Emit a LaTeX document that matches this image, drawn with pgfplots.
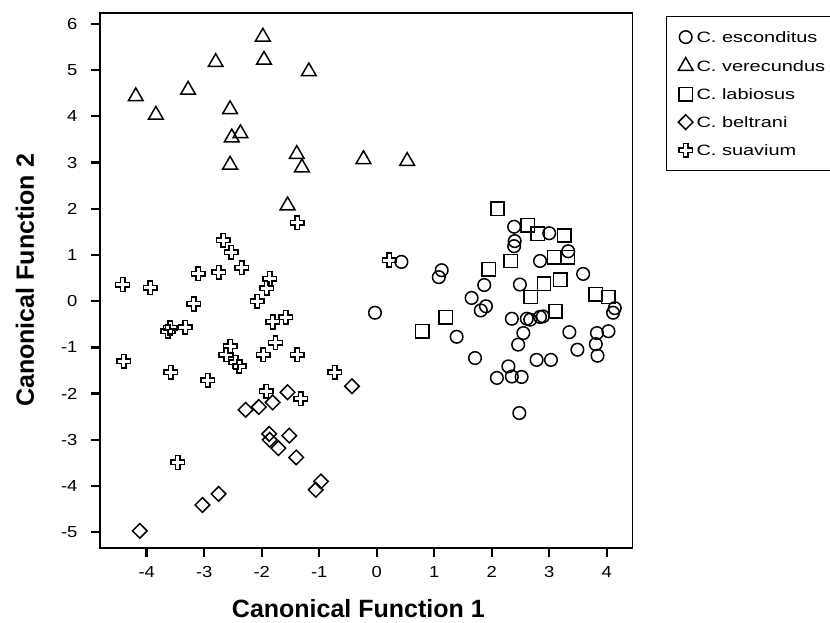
\documentclass[border=0pt]{standalone}
\usepackage{fontspec}
\setmainfont{Liberation Sans}
\newfontfamily\tickfont[FakeStretch=1.15]{Liberation Sans}
\newfontfamily\legfont[FakeStretch=1.33]{Liberation Sans}
\usepackage{pgfplots}
\pgfplotsset{compat=1.18}

% outlined plus, as SPSS draws it
\pgfdeclareplotmark{pluso}{%
  \pgfpathmoveto{\pgfqpoint{-0.33\pgfplotmarksize}{\pgfplotmarksize}}%
  \pgfpathlineto{\pgfqpoint{0.33\pgfplotmarksize}{\pgfplotmarksize}}%
  \pgfpathlineto{\pgfqpoint{0.33\pgfplotmarksize}{0.33\pgfplotmarksize}}%
  \pgfpathlineto{\pgfqpoint{\pgfplotmarksize}{0.33\pgfplotmarksize}}%
  \pgfpathlineto{\pgfqpoint{\pgfplotmarksize}{-0.33\pgfplotmarksize}}%
  \pgfpathlineto{\pgfqpoint{0.33\pgfplotmarksize}{-0.33\pgfplotmarksize}}%
  \pgfpathlineto{\pgfqpoint{0.33\pgfplotmarksize}{-\pgfplotmarksize}}%
  \pgfpathlineto{\pgfqpoint{-0.33\pgfplotmarksize}{-\pgfplotmarksize}}%
  \pgfpathlineto{\pgfqpoint{-0.33\pgfplotmarksize}{-0.33\pgfplotmarksize}}%
  \pgfpathlineto{\pgfqpoint{-\pgfplotmarksize}{-0.33\pgfplotmarksize}}%
  \pgfpathlineto{\pgfqpoint{-\pgfplotmarksize}{0.33\pgfplotmarksize}}%
  \pgfpathlineto{\pgfqpoint{-0.33\pgfplotmarksize}{0.33\pgfplotmarksize}}%
  \pgfpathclose
  \pgfusepathqstroke}
\pgfdeclareplotmark{diam}{%
  \pgfpathmoveto{\pgfqpoint{0pt}{\pgfplotmarksize}}%
  \pgfpathlineto{\pgfqpoint{\pgfplotmarksize}{0pt}}%
  \pgfpathlineto{\pgfqpoint{0pt}{-\pgfplotmarksize}}%
  \pgfpathlineto{\pgfqpoint{-\pgfplotmarksize}{0pt}}%
  \pgfpathclose
  \pgfusepathqstroke}

\begin{document}
\begin{tikzpicture}
\path[use as bounding box] (0,0) rectangle (830pt,622pt);
\begin{axis}[
  at={(100pt,74pt)}, anchor=south west,
  width=532.7pt, height=535pt, scale only axis,
  xmin=-4.812, xmax=4.452, ymin=-5.34, ymax=6.235,
  xtick={-4,...,4}, ytick={-5,...,6},
  tick pos=left, tick align=outside,
  major tick length=9pt,
  axis line style={line width=1.5pt},
  tick style={line width=2.4pt, black},
  /pgf/number format/assume math mode=true,
  ticklabel style={font=\tickfont\fontsize{16}{16}\selectfont},
  xticklabel style={yshift=-6pt},
  yticklabel style={xshift=-10pt},
  xlabel={Canonical Function 1}, ylabel={Canonical Function 2},
  label style={font=\bfseries\fontsize{25}{25}\selectfont},
  xlabel style={at={(axis description cs:0.485,-0.1135)}, anchor=center},
  ylabel style={at={(axis description cs:-0.1408,0.5)}, anchor=center},
  every axis plot/.append style={only marks,
    mark options={solid, line width=1.5pt, draw=black, fill=none},
    legend image code/.code={%
      \draw[##1, only marks] plot coordinates {(0pt,0pt)};}},
  legend style={at={(rel axis cs:1.062,0.9944)}, anchor=north west,
    draw=black, line width=1.2pt, inner xsep=12pt, inner ysep=13pt,
    row sep=13pt, font=\legfont\fontsize{15}{15}\selectfont,
    nodes={inner sep=2pt, text height=11pt, text depth=0pt},
    cells={anchor=west}},
]
\addplot[mark=o, mark size=6.3pt] coordinates {
 (2.39,1.61) (3.00,1.47) (2.40,1.30) (2.39,1.19) (3.33,1.08) (2.84,0.87)
 (3.59,0.59) (0.43,0.85) (1.13,0.67) (1.08,0.52) (1.87,0.35) (2.49,0.36)
 (1.65,0.07) (1.90,-0.11) (1.81,-0.20) (-0.03,-0.25) (4.14,-0.15) (4.11,-0.25)
 (2.35,-0.38) (2.61,-0.38) (2.67,-0.40) (2.84,-0.34) (2.89,-0.33) (2.55,-0.69)
 (3.35,-0.67) (3.83,-0.69) (4.03,-0.65) (1.39,-0.77) (2.46,-0.94) (3.81,-0.93)
 (3.49,-1.05) (3.84,-1.18) (1.71,-1.23) (2.78,-1.27) (3.03,-1.27) (2.29,-1.41)
 (2.09,-1.66) (2.35,-1.63) (2.52,-1.64) (2.48,-2.42)
};
\addlegendentry{\hspace{1.5pt}C. esconditus}
\addplot[mark=triangle, mark size=8.5pt] coordinates {
 (-1.98,5.72) (-2.80,5.17) (-1.96,5.22) (-1.18,4.97) (-4.19,4.43) (-3.28,4.57)
 (-3.84,4.03) (-2.55,4.15) (-2.37,3.63) (-2.52,3.54) (-2.55,2.95) (-1.39,3.18)
 (-1.30,2.89) (-0.23,3.07) (0.53,3.03) (-1.55,2.07)
};
\addlegendentry{\hspace{1.5pt}C. verecundus}
\addplot[mark=square, mark size=6.7pt] coordinates {
 (2.10,2.00) (2.63,1.64) (2.80,1.46) (3.26,1.42) (3.09,0.95) (3.32,0.95)
 (2.33,0.87) (1.95,0.69) (2.91,0.38) (3.19,0.46) (2.68,0.09) (3.81,0.15)
 (4.03,0.09) (3.11,-0.22) (1.20,-0.35) (0.79,-0.65)
};
\addlegendentry{\hspace{1.5pt}C. labiosus}
\addplot[mark=diam, mark size=7.3pt] coordinates {
 (-0.43,-1.84) (-1.55,-1.97) (-2.28,-2.35) (-2.05,-2.29) (-1.81,-2.19)
 (-1.87,-2.87) (-1.86,-3.00) (-1.71,-3.18) (-1.52,-2.91) (-1.40,-3.38)
 (-0.97,-3.90) (-1.06,-4.08) (-2.75,-4.17) (-3.03,-4.41) (-4.12,-4.97)
};
\addlegendentry{\hspace{1.5pt}C. beltrani}
\addplot[mark=pluso, mark size=6.8pt] coordinates {
 (-1.38,1.70) (-2.67,1.32) (-2.53,1.06) (-2.35,0.72) (-3.10,0.59) (-2.75,0.63)
 (-4.42,0.36) (-3.94,0.29) (-1.86,0.49) (-1.91,0.28) (-2.08,0.00) (-3.18,-0.06)
 (-3.59,-0.58) (-3.33,-0.56) (-3.63,-0.65) (-1.81,-0.45) (-1.58,-0.35)
 (-1.76,-0.90) (-2.55,-0.98) (-2.62,-1.16) (-2.45,-1.32) (-2.39,-1.41)
 (-1.97,-1.16) (-1.38,-1.16) (-4.40,-1.30) (-3.58,-1.54) (-2.94,-1.71)
 (-0.73,-1.54) (-1.92,-1.95) (-1.32,-2.11) (-3.46,-3.49) (0.22,0.89)
};
\addlegendentry{\hspace{1.5pt}C. suavium}
\end{axis}
\end{tikzpicture}
\end{document}
